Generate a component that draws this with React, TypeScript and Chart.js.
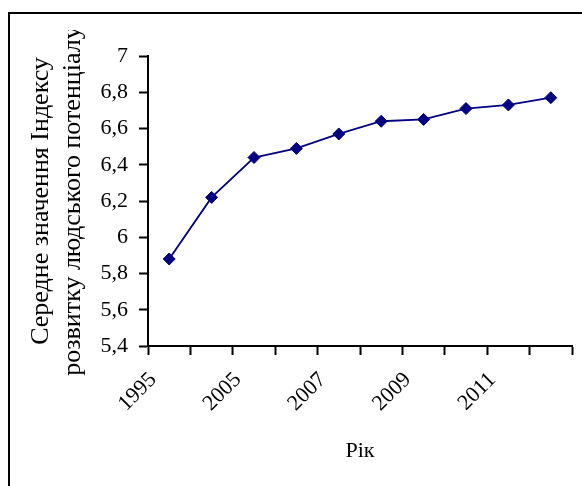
import React, { useEffect, useRef } from "react";
import { Chart, registerables } from "chart.js";

Chart.register(...registerables);

const years = ["1995", "2000", "2005", "2006", "2007", "2008", "2009", "2010", "2011", "2012"];
const indexValues = [5.88, 6.22, 6.44, 6.49, 6.57, 6.64, 6.65, 6.71, 6.73, 6.77];
const yTitleLines = ["Середне значення Індексу", "розвитку людського потенціалу"];
const xTitle = "Рік";

const FONT = "Liberation Serif";

const framePlugin = {
  id: "frame",
  beforeDraw(chart: any) {
    const ctx = chart.ctx;
    ctx.save();
    ctx.beginPath();
    ctx.rect(0, 30, chart.width, chart.height - 30);
    ctx.clip();
  },
  beforeDatasetsDraw(chart: any) {
    chart.ctx.restore();
  },
  afterDraw(chart: any) {
    const ctx = chart.ctx;
    ctx.save();
    ctx.strokeStyle = "#000";
    ctx.lineWidth = 2;
    ctx.strokeRect(9, 13, 700, 700);
    ctx.restore();
  },
};

export default function App() {
  const ref = useRef<HTMLCanvasElement | null>(null);
  useEffect(() => {
    if (!ref.current) return;
    const chart = new Chart(ref.current, {
      type: "line",
      data: {
        labels: years,
        datasets: [
          {
            data: indexValues,
            borderColor: "#000080",
            backgroundColor: "#000080",
            borderWidth: 1.8,
            pointStyle: "rectRot",
            pointRadius: 6,
            pointBorderWidth: 1,
            pointBorderColor: "#000080",
            pointBackgroundColor: "#000080",
            tension: 0,
          },
        ],
      },
      options: {
        animation: false,
        responsive: false,
        maintainAspectRatio: false,
        plugins: { legend: { display: false }, tooltip: { enabled: false } },
        layout: { padding: { top: 56, right: 10, left: 0, bottom: 0 } },
        scales: {
          x: {
            type: "category",
            offset: true,
            afterFit: (s: any) => {
              s.height = 140;
            },
            grid: {
              offset: true,
              drawOnChartArea: false,
              drawTicks: true,
              tickLength: 9,
              tickWidth: 2,
              tickColor: "#000",
            },
            border: { color: "#000", width: 2 },
            ticks: {
              autoSkip: false,
              minRotation: 45,
              maxRotation: 45,
              padding: 12,
              labelOffset: -16,
              color: "#000",
              font: { family: FONT, size: 22 },
              callback: (_v: any, i: number) => (i % 2 === 0 ? years[i] : ""),
            },
            title: {
              display: true,
              text: xTitle,
              color: "#000",
              font: { family: FONT, size: 22 },
              padding: { top: 0, bottom: 22 },
            },
          },
          y: {
            min: 5.4,
            max: 7,
            afterFit: (s: any) => {
              s.width = 148;
            },
            grid: {
              drawOnChartArea: false,
              drawTicks: true,
              tickLength: 9,
              tickWidth: 2,
              tickColor: "#000",
            },
            border: { color: "#000", width: 2 },
            ticks: {
              stepSize: 0.2,
              padding: 11,
              color: "#000",
              font: { family: FONT, size: 22 },
              callback: (v: any) => {
                const n = Math.round(Number(v) * 10) / 10;
                return String(n).replace(".", ",");
              },
            },
            title: {
              display: true,
              text: yTitleLines,
              color: "#000",
              font: { family: FONT, size: 26, lineHeight: 1.2 },
              padding: { top: 26, bottom: 0 },
            },
          },
        },
      },
      plugins: [framePlugin],
    });
    return () => chart.destroy();
  }, []);
  return (
    <div style={{ position: "fixed", left: 0, top: 0, width: 582, height: 486, background: "#fff" }}>
      <canvas ref={ref} width={582} height={486} style={{ width: 582, height: 486, display: "block" }} />
    </div>
  );
}
